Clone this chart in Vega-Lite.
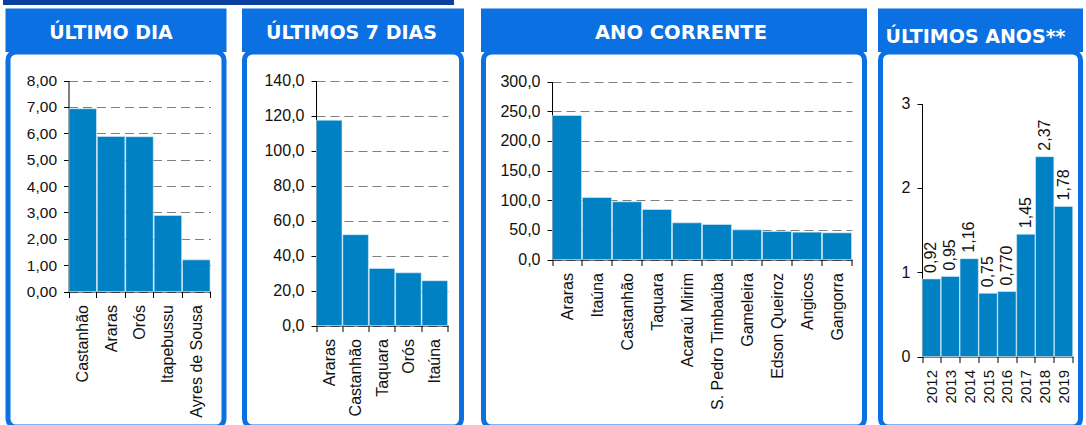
{
  "$schema": "https://vega.github.io/schema/vega-lite/v6.json",
  "padding": {"left": -3, "top": 0, "right": 0, "bottom": 0},
  "background": "white",
  "config": {
    "locale": {"number": {"decimal": ",", "thousands": ".", "grouping": [3], "currency": ["R$", ""]}},
    "font": "Liberation Sans",
    "axis": {"labelFont": "Liberation Sans", "labelColor": "#111111", "domainColor": "#000000", "tickColor": "#000000", "domainWidth": 1, "tickWidth": 1},
    "view": {"stroke": null}
  },
  "datasets": {
    "p1": [
      {"nome": "Castanhão", "valor": 6.93},
      {"nome": "Araras", "valor": 5.88},
      {"nome": "Orós", "valor": 5.87},
      {"nome": "Itapebussu", "valor": 2.88},
      {"nome": "Ayres de Sousa", "valor": 1.20}
    ],
    "p2": [
      {"nome": "Araras", "valor": 117.3},
      {"nome": "Castanhão", "valor": 51.9},
      {"nome": "Taquara", "valor": 32.6},
      {"nome": "Orós", "valor": 30.1},
      {"nome": "Itaúna", "valor": 25.6}
    ],
    "p3": [
      {"nome": "Araras", "valor": 242.7},
      {"nome": "Itaúna", "valor": 104.5},
      {"nome": "Castanhão", "valor": 97.2},
      {"nome": "Taquara", "valor": 84.3},
      {"nome": "Acaraú Mirim", "valor": 61.8},
      {"nome": "S. Pedro Timbaúba", "valor": 59.0},
      {"nome": "Gameleira", "valor": 50.0},
      {"nome": "Edson Queiroz", "valor": 47.2},
      {"nome": "Angicos", "valor": 46.1},
      {"nome": "Gangorra", "valor": 45.0}
    ],
    "p4": [
      {"ano": "2012", "valor": 0.92, "rotulo": "0,92"},
      {"ano": "2013", "valor": 0.95, "rotulo": "0,95"},
      {"ano": "2014", "valor": 1.16, "rotulo": "1,16"},
      {"ano": "2015", "valor": 0.75, "rotulo": "0,75"},
      {"ano": "2016", "valor": 0.77, "rotulo": "0,770"},
      {"ano": "2017", "valor": 1.45, "rotulo": "1,45"},
      {"ano": "2018", "valor": 2.37, "rotulo": "2,37"},
      {"ano": "2019", "valor": 1.78, "rotulo": "1,78"}
    ]
  },
  "spacing": 3,
  "vconcat": [
    {
      "width": 451, "height": 5,
      "data": {"values": [{"a": 1}]},
      "mark": {"type": "bar", "color": "#0B3FA0"},
      "encoding": {}
    },
    {
      "spacing": 3.5,
      "hconcat": [
        {
          "spacing": 8.5,
          "hconcat": [
            {
              "spacing": 6.5,
              "hconcat": [
                {
                  "spacing": -7,
                  "hconcat": [
                    {
                      "width": 1, "height": 1,
                      "data": {"values": [{"a": 1}]},
                      "mark": {"type": "bar", "opacity": 0},
                      "encoding": {}
                    },
                    {
                      "spacing": -13,
                      "vconcat": [
                        {
                          "width": 216, "height": 38.5,
                          "view": {"fill": "#0B70E2", "stroke": "#0B70E2", "strokeWidth": 5},
                          "data": {"values": [{"t": "ÚLTIMO DIA"}]},
                          "mark": {"type": "text", "font": "DejaVu Sans", "fontWeight": "bold", "fontSize": 19, "color": "white", "dx": -5, "dy": 2.75},
                          "encoding": {"text": {"field": "t"}}
                        },
                        {
                          "width": 216, "height": 375,
                          "view": {"fill": "white", "stroke": "#0B70E2", "strokeWidth": 5, "cornerRadius": 8},
                          "data": {"name": "p1"},
                          "mark": {"type": "bar", "color": "#0081C4", "stroke": "#d8ecf8", "strokeWidth": 0.6},
                          "encoding": {
                            "x": {"field": "nome", "type": "nominal", "sort": null, "title": null,
                              "scale": {"range": [60.5, 202.5], "paddingInner": 0.03, "paddingOuter": 0.015},
                              "axis": {"offset": -135.5, "labelAngle": -90, "tickBand": "extent", "tickSize": 6, "labelPadding": 7, "labelFontSize": 16, "grid": false}},
                            "y": {"field": "valor", "type": "quantitative", "title": null,
                              "scale": {"domain": [0, 8], "range": [239.5, 28.5], "nice": false},
                              "axis": {"offset": -60.5, "values": [0, 1, 2, 3, 4, 5, 6, 7, 8], "format": ".2f", "grid": true, "gridDash": [9, 5], "gridColor": "#7f7f7f", "tickSize": 5, "labelPadding": 7, "labelFontSize": 15.5}}
                          }
                        }
                      ]
                    }
                  ]
                },
                {
                  "spacing": -13,
                  "vconcat": [
                    {
                      "width": 217, "height": 38.5,
                      "view": {"fill": "#0B70E2", "stroke": "#0B70E2", "strokeWidth": 5},
                      "data": {"values": [{"t": "ÚLTIMOS 7 DIAS"}]},
                      "mark": {"type": "text", "font": "DejaVu Sans", "fontWeight": "bold", "fontSize": 19, "color": "white", "dx": -1.5, "dy": 2.75},
                      "encoding": {"text": {"field": "t"}}
                    },
                    {
                      "width": 217, "height": 375,
                      "view": {"fill": "white", "stroke": "#0B70E2", "strokeWidth": 5, "cornerRadius": 8},
                      "data": {"name": "p2"},
                      "mark": {"type": "bar", "color": "#0081C4", "stroke": "#d8ecf8", "strokeWidth": 0.6},
                      "encoding": {
                        "x": {"field": "nome", "type": "nominal", "sort": null, "title": null,
                          "scale": {"range": [71.5, 203.5], "paddingInner": 0.03, "paddingOuter": 0.015},
                          "axis": {"offset": -101.5, "labelAngle": -90, "tickBand": "extent", "tickSize": 6, "labelPadding": 7, "labelFontSize": 16, "grid": false}},
                        "y": {"field": "valor", "type": "quantitative", "title": null,
                          "scale": {"domain": [0, 140], "range": [273.5, 28.5], "nice": false},
                          "axis": {"offset": -71.5, "values": [0, 20, 40, 60, 80, 100, 120, 140], "format": ".1f", "grid": true, "gridDash": [9, 5], "gridColor": "#7f7f7f", "tickSize": 5, "labelPadding": 7, "labelFontSize": 16}}
                      }
                    }
                  ]
                }
              ]
            },
            {
              "spacing": -13,
              "vconcat": [
                {
                  "width": 381, "height": 38.5,
                  "view": {"fill": "#0B70E2", "stroke": "#0B70E2", "strokeWidth": 5},
                  "data": {"values": [{"t": "ANO CORRENTE"}]},
                  "mark": {"type": "text", "font": "DejaVu Sans", "fontWeight": "bold", "fontSize": 19.5, "color": "white", "dx": 7, "dy": 2.75},
                  "encoding": {"text": {"field": "t"}}
                },
                {
                  "width": 381, "height": 375,
                  "view": {"fill": "white", "stroke": "#0B70E2", "strokeWidth": 5, "cornerRadius": 8},
                  "data": {"name": "p3"},
                  "mark": {"type": "bar", "color": "#0081C4", "stroke": "#d8ecf8", "strokeWidth": 0.6},
                  "encoding": {
                    "x": {"field": "nome", "type": "nominal", "sort": null, "title": null,
                      "scale": {"range": [68.5, 368.5], "paddingInner": 0.03, "paddingOuter": 0.015},
                      "axis": {"offset": -167.5, "labelAngle": -90, "tickBand": "extent", "tickSize": 6, "labelPadding": 7, "labelFontSize": 16, "grid": false}},
                    "y": {"field": "valor", "type": "quantitative", "title": null,
                      "scale": {"domain": [0, 300], "range": [207.5, 29.5], "nice": false},
                      "axis": {"offset": -68.5, "values": [0, 50, 100, 150, 200, 250, 300], "format": ".1f", "grid": true, "gridDash": [9, 5], "gridColor": "#7f7f7f", "tickSize": 5, "labelPadding": 7, "labelFontSize": 16}}
                  }
                }
              ]
            }
          ]
        },
        {
          "spacing": -13,
          "vconcat": [
            {
              "width": 200, "height": 38.5,
              "view": {"fill": "#0B70E2", "stroke": "#0B70E2", "strokeWidth": 5},
              "data": {"values": [{"t": "ÚLTIMOS ANOS**"}]},
              "mark": {"type": "text", "font": "DejaVu Sans", "fontWeight": "bold", "fontSize": 19, "color": "white", "dx": -5, "dy": 6.75},
              "encoding": {"text": {"field": "t"}}
            },
            {
              "width": 200, "height": 375,
              "view": {"fill": "white", "stroke": "#0B70E2", "strokeWidth": 5, "cornerRadius": 8},
              "data": {"name": "p4"},
              "encoding": {
                "x": {"field": "ano", "type": "nominal", "sort": null, "title": null,
                  "scale": {"range": [41.5, 192.5], "paddingInner": 0.03, "paddingOuter": 0.015},
                  "axis": {"offset": -70.5, "labelAngle": -90, "tickBand": "extent", "tickSize": 6, "labelPadding": 7, "labelFontSize": 15, "grid": false}},
                "y": {"field": "valor", "type": "quantitative", "title": null,
                  "scale": {"domain": [0, 3], "range": [304.5, 51.5], "nice": false},
                  "axis": {"offset": -41.5, "values": [0, 1, 2, 3], "format": "d", "grid": false, "tickSize": 5, "labelPadding": 7, "labelFontSize": 16}}
              },
              "layer": [
                {"mark": {"type": "bar", "color": "#0081C4", "stroke": "#d8ecf8", "strokeWidth": 0.6}},
                {"mark": {"type": "text", "angle": -90, "align": "left", "baseline": "middle", "dx": 6, "fontSize": 16, "color": "#111111", "font": "Liberation Sans"},
                 "encoding": {"text": {"field": "rotulo"}}}
              ]
            }
          ]
        }
      ]
    }
  ]
}
